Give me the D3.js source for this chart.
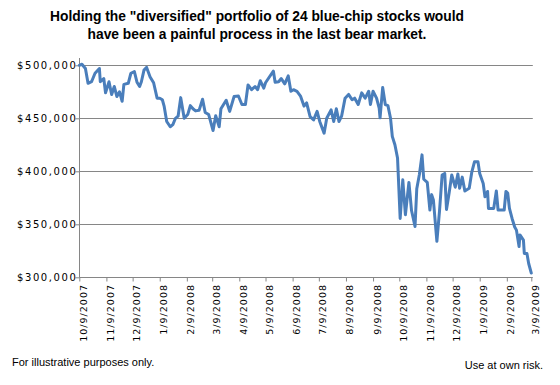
<!DOCTYPE html>
<html>
<head>
<meta charset="utf-8">
<script src="https://cdn.jsdelivr.net/npm/d3@7"></script>
<style>
  body { margin: 0; background: #fff; }
  svg { display: block; }
</style>
</head>
<body>
<div id="chart"></div>
<script>
// Portfolio value, 24 blue-chip stocks, 10/2007 - 3/2009

const titleLines = [
    'Holding the "diversified" portfolio of 24 blue-chip stocks would',
    'have been a painful process in the last bear market.'
];

const dates = [
    "2007-10-09","2007-10-12","2007-10-16","2007-10-19","2007-10-23","2007-10-27","2007-11-01","2007-11-02","2007-11-06","2007-11-08",
    "2007-11-12","2007-11-15","2007-11-18","2007-11-21","2007-11-24","2007-11-27","2007-11-29","2007-12-04","2007-12-07","2007-12-11",
    "2007-12-14","2007-12-17","2007-12-19","2007-12-22","2007-12-25","2007-12-29","2008-01-02","2008-01-06","2008-01-09","2008-01-12",
    "2008-01-14","2008-01-17","2008-01-21","2008-01-24","2008-01-27","2008-01-30","2008-02-02","2008-02-06","2008-02-10","2008-02-13",
    "2008-02-16","2008-02-19","2008-02-23","2008-02-27","2008-03-01","2008-03-05","2008-03-10","2008-03-13","2008-03-17","2008-03-19",
    "2008-03-25","2008-03-29","2008-04-03","2008-04-08","2008-04-12","2008-04-16","2008-04-19","2008-04-23","2008-04-27","2008-04-30",
    "2008-05-03","2008-05-07","2008-05-09","2008-05-13","2008-05-18","2008-05-20","2008-05-24","2008-05-27","2008-05-31","2008-06-04",
    "2008-06-07","2008-06-10","2008-06-14","2008-06-18","2008-06-22","2008-06-25","2008-06-29","2008-07-03","2008-07-07","2008-07-10",
    "2008-07-15","2008-07-18","2008-07-23","2008-07-26","2008-07-29","2008-08-01","2008-08-04","2008-08-08","2008-08-12","2008-08-16",
    "2008-08-19","2008-08-23","2008-08-27","2008-08-31","2008-09-04","2008-09-06","2008-09-09","2008-09-13","2008-09-16","2008-09-17",
    "2008-09-20","2008-09-23","2008-09-26","2008-09-29","2008-10-01","2008-10-04","2008-10-07","2008-10-08","2008-10-10","2008-10-13",
    "2008-10-16","2008-10-20","2008-10-21","2008-10-23","2008-10-27","2008-10-29","2008-11-01","2008-11-04","2008-11-06","2008-11-10",
    "2008-11-13","2008-11-15","2008-11-17","2008-11-21","2008-11-24","2008-11-27","2008-11-30","2008-12-02","2008-12-05","2008-12-08",
    "2008-12-12","2008-12-15","2008-12-17","2008-12-20","2008-12-23","2008-12-28","2008-12-31","2009-01-03","2009-01-07","2009-01-09",
    "2009-01-13","2009-01-15","2009-01-18","2009-01-19","2009-01-25","2009-01-28","2009-01-30","2009-02-06","2009-02-08","2009-02-10",
    "2009-02-12","2009-02-15","2009-02-18","2009-02-20","2009-02-23","2009-02-24","2009-02-28","2009-03-01","2009-03-04","2009-03-06",
    "2009-03-09"
];

const values = [
    500000,501000,497000,483000,484500,492500,497000,484500,487500,474000,
    484500,472500,480000,470500,475000,466000,482000,483000,492500,494000,
    484000,480000,484500,495500,498000,489000,483500,469000,469000,467500,
    461500,447000,442000,444000,450000,452000,469500,450000,453500,462000,
    459000,457000,457500,468000,455500,453500,438500,452500,442000,459000,
    467000,456500,470500,471000,463000,463000,481500,477000,480000,477000,
    485500,478500,483500,488500,494500,484000,484500,487500,482500,490000,
    475500,477000,475500,471000,461500,464500,451500,448500,456500,447000,
    436000,450000,458000,447000,459000,447000,452000,469000,472500,467500,
    469000,463000,474000,469000,475500,463000,475500,469000,459500,450500,
    479000,463000,462000,450000,433000,425000,412500,393500,355500,392000,
    359000,389500,381000,363000,348000,383500,397000,415500,392500,389500,
    363500,378000,373000,334000,362500,396500,398000,364000,379500,396500,
    385000,397500,384000,394500,381500,384000,399500,409000,409000,398000,
    388500,376000,381000,365000,365000,381500,363500,363500,381000,379500,
    365000,355500,347500,344500,329000,340000,335000,322500,322500,313000,
    304000
];

const xTickLabels = [
    "10/9/2007","11/9/2007","12/9/2007","1/9/2008","2/9/2008","3/9/2008","4/9/2008","5/9/2008","6/9/2008",
    "7/9/2008","8/9/2008","9/9/2008","10/9/2008","11/9/2008","12/9/2008","1/9/2009","2/9/2009","3/9/2009"
];

const yTickValues = [300000, 350000, 400000, 450000, 500000];

const footLeft = "For illustrative purposes only.";
const footRight = "Use at own risk.";

const width = 560, height = 385;
const plot = { left: 79.3, right: 531.3, top: 65.3, bottom: 277.3 };
const gridColor = '#868686';
const lineColor = '#4a7ebb';

const parseDay = d3.utcParse('%Y-%m-%d');
const parseTick = d3.utcParse('%m/%d/%Y');
const series = dates.map((d, i) => ({ date: parseDay(d), value: values[i] }));

const svg = d3.select('#chart')
    .append('svg')
    .attr('width', width)
    .attr('height', height);

svg.append('rect')
    .attr('width', width)
    .attr('height', height)
    .attr('fill', '#fff');

const x = d3.scaleUtc()
    .domain([parseTick(xTickLabels[0]), parseTick(xTickLabels[xTickLabels.length - 1])])
    .range([plot.left, plot.right]);

const y = d3.scaleLinear()
    .domain([300000, 500000])
    .range([plot.bottom, plot.top]);

// Title
svg.append('g')
    .selectAll('text')
    .data(titleLines)
    .enter().append('text')
    .attr('x', 257)
    .attr('y', (d, i) => 21 + i * 17.5)
    .attr('text-anchor', 'middle')
    .attr('font-family', '"Liberation Sans", Arial, sans-serif')
    .attr('font-weight', 'bold')
    .attr('font-size', '13.8px')
    .attr('fill', '#000')
    .text(d => d);

// Gridlines
svg.append('g')
    .attr('class', 'grid')
    .selectAll('line')
    .data(yTickValues.slice(1))
    .enter().append('line')
    .attr('x1', plot.left)
    .attr('x2', plot.right + 1.5)
    .attr('y1', d => Math.round(y(d)) + 0.5)
    .attr('y2', d => Math.round(y(d)) + 0.5)
    .attr('stroke', gridColor)
    .attr('stroke-width', 1);

// Y axis
const yAxis = svg.append('g')
    .attr('transform', `translate(${Math.round(plot.left) + 0.5},0)`)
    .call(d3.axisLeft(y)
        .tickValues(yTickValues)
        .tickSize(4)
        .tickSizeOuter(0)
        .tickFormat(d3.format('$,')));

yAxis.select('.domain')
    .attr('d', `M0,58V${Math.round(plot.bottom) + 0.5}`)
    .attr('stroke', gridColor);
yAxis.selectAll('.tick line').attr('stroke', gridColor);
yAxis.selectAll('.tick text')
    .attr('x', -2)
    .attr('dy', '0.36em')
    .attr('font-family', '"DejaVu Sans", Verdana, sans-serif')
    .attr('font-size', '10px')
    .attr('letter-spacing', '1.6px')
    .attr('fill', '#000');

// X axis
const xAxis = svg.append('g')
    .attr('transform', `translate(0,${Math.round(plot.bottom) + 0.5})`)
    .call(d3.axisBottom(x)
        .tickValues(xTickLabels.map(parseTick))
        .tickSize(4)
        .tickSizeOuter(0)
        .tickFormat(d3.utcFormat('%-m/%-d/%Y')));

xAxis.select('.domain')
    .attr('d', `M${plot.left},0H${plot.right + 1.5}`)
    .attr('stroke', gridColor);
xAxis.selectAll('.tick line').attr('stroke', gridColor);
xAxis.selectAll('.tick text')
    .attr('transform', 'rotate(-90)')
    .attr('text-anchor', 'end')
    .attr('x', -6.5)
    .attr('y', 7)
    .attr('dy', 0)
    .attr('font-family', '"DejaVu Sans", Verdana, sans-serif')
    .attr('font-size', '9.5px')
    .attr('letter-spacing', '1px')
    .attr('fill', '#000');

// Portfolio line
const line = d3.line()
    .x(d => x(d.date))
    .y(d => y(d.value));

svg.append('path')
    .datum(series)
    .attr('d', line)
    .attr('fill', 'none')
    .attr('stroke', lineColor)
    .attr('stroke-width', 3)
    .attr('stroke-linejoin', 'round')
    .attr('stroke-linecap', 'round');

// Footnotes
svg.append('text')
    .attr('x', 12)
    .attr('y', 365.5)
    .attr('font-family', '"Liberation Sans", Arial, sans-serif')
    .attr('font-size', '11px')
    .attr('fill', '#000')
    .text(footLeft);

svg.append('text')
    .attr('x', 543)
    .attr('y', 369)
    .attr('text-anchor', 'end')
    .attr('font-family', '"Liberation Sans", Arial, sans-serif')
    .attr('font-size', '11px')
    .attr('fill', '#000')
    .text(footRight);
</script>
</body>
</html>
